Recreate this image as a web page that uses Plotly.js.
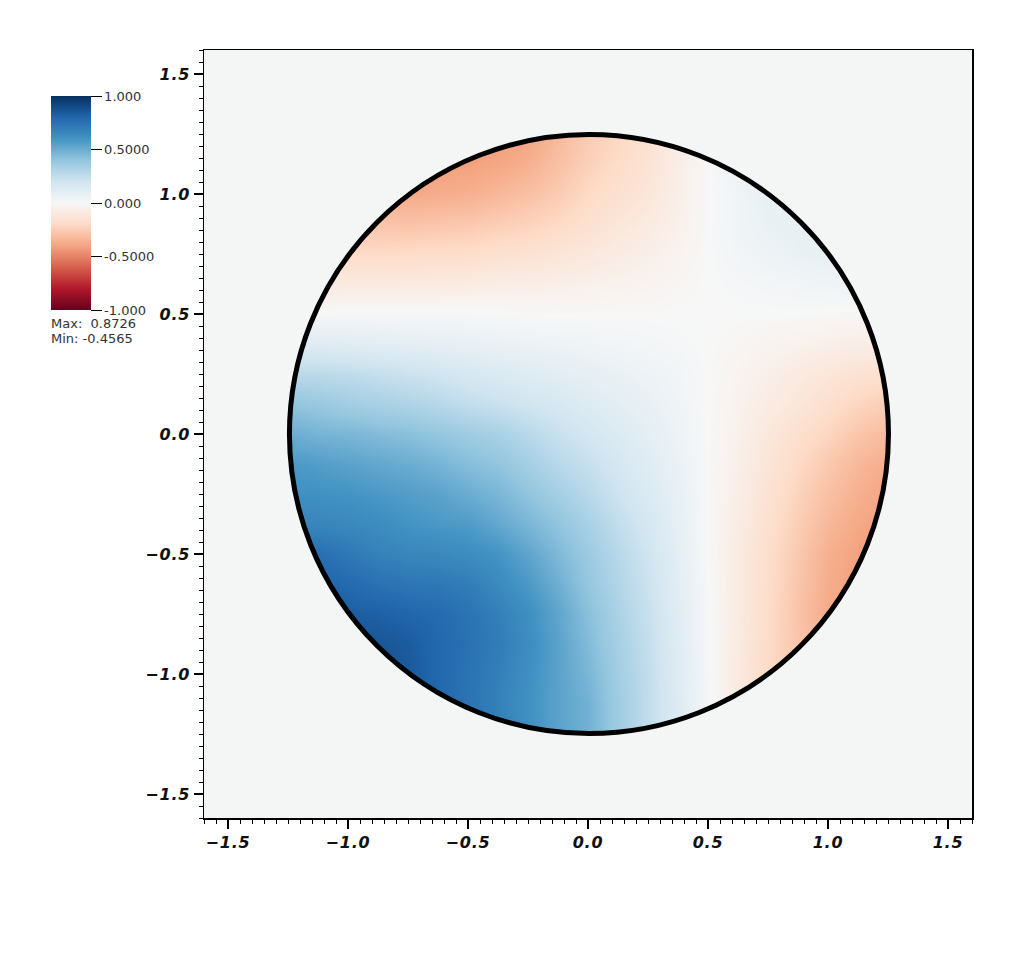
<!DOCTYPE html>
<html><head><meta charset="utf-8">
<script src="https://cdn.plot.ly/plotly-3.0.1.min.js"></script>
<style>html,body{margin:0;padding:0;background:#fff}
.xtick text,.ytick text{letter-spacing:.8px}</style>
</head><body><div id="c" style="width:1024px;height:962px"></div>
<script>
const xs=[-1.25,-1.125,-1,-.875,-.75,-.625,-.5,-.375,-.25,-.125,0,.125,.25,.375,.5,.625,.75,.875,1,1.125,1.25];
const ys=xs.slice();
const zRows=[
[.90,.89,.88,.87,.85,.80,.75,.69,.62,.54,.48,.36,.25,.14,.02,-.10,-.20,-.28,-.35,-.39,-.42],
[.89,.885,.88,.87,.85,.80,.74,.68,.61,.54,.48,.36,.25,.135,.015,-.10,-.20,-.275,-.34,-.385,-.42],
[.88,.88,.88,.87,.85,.79,.74,.69,.62,.54,.46,.35,.25,.13,.01,-.10,-.20,-.27,-.33,-.38,-.42],
[.87,.87,.87,.86,.84,.79,.75,.70,.63,.54,.44,.335,.24,.125,.01,-.095,-.195,-.28,-.355,-.40,-.43],
[.84,.84,.83,.82,.80,.78,.74,.69,.62,.53,.42,.32,.23,.12,.01,-.09,-.19,-.29,-.38,-.42,-.44],
[.80,.81,.78,.75,.73,.72,.70,.64,.58,.49,.39,.30,.215,.11,.005,-.09,-.185,-.28,-.37,-.415,-.445],
[.74,.76,.72,.68,.66,.65,.63,.60,.53,.45,.37,.28,.20,.10,0,-.09,-.18,-.27,-.36,-.41,-.45],
[.66,.66,.65,.63,.60,.58,.57,.52,.46,.40,.33,.25,.175,.09,0,-.08,-.165,-.25,-.33,-.385,-.42],
[.62,.61,.60,.58,.56,.54,.50,.46,.40,.34,.28,.21,.15,.08,0,-.07,-.15,-.23,-.30,-.36,-.40],
[.58,.56,.54,.52,.50,.47,.43,.40,.34,.28,.235,.175,.125,.065,0,-.06,-.13,-.20,-.27,-.33,-.37],
[.50,.47,.46,.44,.42,.39,.36,.33,.28,.23,.18,.14,.10,.05,0,-.05,-.11,-.17,-.22,-.28,-.32],
[.40,.38,.35,.33,.31,.285,.25,.225,.195,.165,.135,.105,.075,.04,0,-.04,-.08,-.12,-.17,-.22,-.25],
[.27,.27,.26,.24,.22,.20,.17,.15,.13,.11,.09,.07,.05,.03,0,-.03,-.06,-.09,-.12,-.15,-.17],
[.13,.13,.12,.11,.10,.09,.08,.07,.06,.05,.04,.03,.02,.01,0,-.01,-.03,-.04,-.06,-.07,-.08],
[.01,.01,.01,.01,.01,.01,.01,.005,0,0,0,0,0,0,0,0,0,0,-.005,-.01,-.01],
[-.10,-.10,-.09,-.09,-.09,-.09,-.08,-.07,-.07,-.06,-.05,-.04,-.03,-.01,0,.01,.02,.03,.04,.05,.05],
[-.20,-.20,-.20,-.20,-.19,-.18,-.18,-.16,-.15,-.13,-.11,-.08,-.06,-.03,0,.03,.05,.07,.08,.09,.09],
[-.28,-.27,-.27,-.28,-.29,-.28,-.27,-.25,-.23,-.20,-.16,-.12,-.09,-.05,0,.04,.07,.08,.09,.10,.10],
[-.35,-.34,-.33,-.36,-.38,-.37,-.36,-.33,-.30,-.26,-.20,-.16,-.12,-.06,0,.04,.08,.09,.10,.10,.10],
[-.39,-.38,-.38,-.40,-.42,-.42,-.41,-.39,-.36,-.30,-.24,-.19,-.14,-.07,0,.05,.09,.10,.10,.10,.10],
[-.42,-.42,-.42,-.43,-.44,-.45,-.45,-.44,-.40,-.33,-.26,-.21,-.16,-.08,0,.05,.09,.10,.10,.10,.10]
];
const scaleStops=[0,.1,.2,.3,.4,.5,.6,.7,.8,.9,1];
const scaleColors=['#67001f','#b2182b','#d6604d','#f4a582','#fddbc7','#f7f7f7','#d1e5f0','#92c5de','#4393c3','#2166ac','#053061'];
const barTickVals=[1,.5,0,-.5,-1];
const barTickText=['1.000','0.5000','0.000','-0.5000','-1.000'];
const axisTickVals=[-1.5,-1,-.5,0,.5,1,1.5];
const axisTickText=['\u22121.5','\u22121.0','\u22120.5','0.0','0.5','1.0','1.5'];
const statLines=['Max:\u00a0\u00a00.8726','Min: -0.4565'];
const discRadius=1.248, discCenterX=.004, maskEdge=1.4, rangeX=[-1.6,1.6], rangeY=[-1.6,1.6];
const bg='#f4f6f5';
const W=1024,H=962,L=204,T=50,PW=768,PH=768;
const k=0.5522847*discRadius,R=discRadius,cx=discCenterX;
const circlePath=`M${cx-R},0C${cx-R},${k} ${cx-k},${R} ${cx},${R}C${cx+k},${R} ${cx+R},${k} ${cx+R},0C${cx+R},${-k} ${cx+k},${-R} ${cx},${-R}C${cx-k},${-R} ${cx-R},${-k} ${cx-R},0Z`;
const maskPath=`M${-maskEdge},${-maskEdge}H${maskEdge}V${maskEdge}H${-maskEdge}Z`+circlePath;
const axisFont={family:'"DejaVu Sans"',size:16,color:'#111',weight:'bold',style:'italic'};
const barFont={family:'"DejaVu Sans"',size:13,color:'#333'};
const axisBase={tickmode:'array',tickvals:axisTickVals,ticktext:axisTickText,ticks:'outside',ticklen:9,tickwidth:1.2,tickcolor:'#000',
  tickfont:axisFont,showgrid:false,zeroline:false,showline:true,linecolor:'#000',linewidth:1.5,mirror:true,
  minor:{dtick:.05,tick0:0,ticks:'outside',ticklen:4,tickwidth:1,tickcolor:'#000',showgrid:false}};
const trace={type:'heatmap',x:xs,y:ys,z:zRows,zmin:-1,zmax:1,zsmooth:'best',hoverinfo:'skip',
  colorscale:scaleStops.map((s,i)=>[s,scaleColors[i]]),
  colorbar:{thicknessmode:'pixels',thickness:40,lenmode:'pixels',len:214,x:(51-L)/PW,xanchor:'left',xpad:0,y:(T+PH-203)/PH,yanchor:'middle',ypad:0,
    outlinewidth:0,tickmode:'array',tickvals:barTickVals,ticktext:barTickText,ticks:'outside',ticklen:11,tickwidth:1,tickcolor:'#000',tickfont:barFont}};
const layout={width:W,height:H,margin:{l:L,t:T,r:W-L-PW,b:H-T-PH},paper_bgcolor:'#fff',plot_bgcolor:bg,showlegend:false,
  xaxis:{...axisBase,range:rangeX},
  yaxis:{...axisBase,range:rangeY},
  shapes:[
    {type:'path',xref:'x',yref:'y',path:maskPath,fillcolor:bg,fillrule:'evenodd',line:{width:0},layer:'above'},
    {type:'circle',xref:'x',yref:'y',x0:cx-R,x1:cx+R,y0:-R,y1:R,line:{color:'#000',width:5},fillcolor:'rgba(0,0,0,0)',layer:'above'}
  ],
  annotations:statLines.map((t,i)=>({text:t,xref:'paper',yref:'paper',x:(51-L)/PW,y:(T+PH-(323+i*15))/PH,xanchor:'left',yanchor:'middle',showarrow:false,borderpad:0,xshift:-1,font:barFont}))
};
Plotly.newPlot('c',[trace],layout,{displayModeBar:false,staticPlot:true});
</script></body></html>
